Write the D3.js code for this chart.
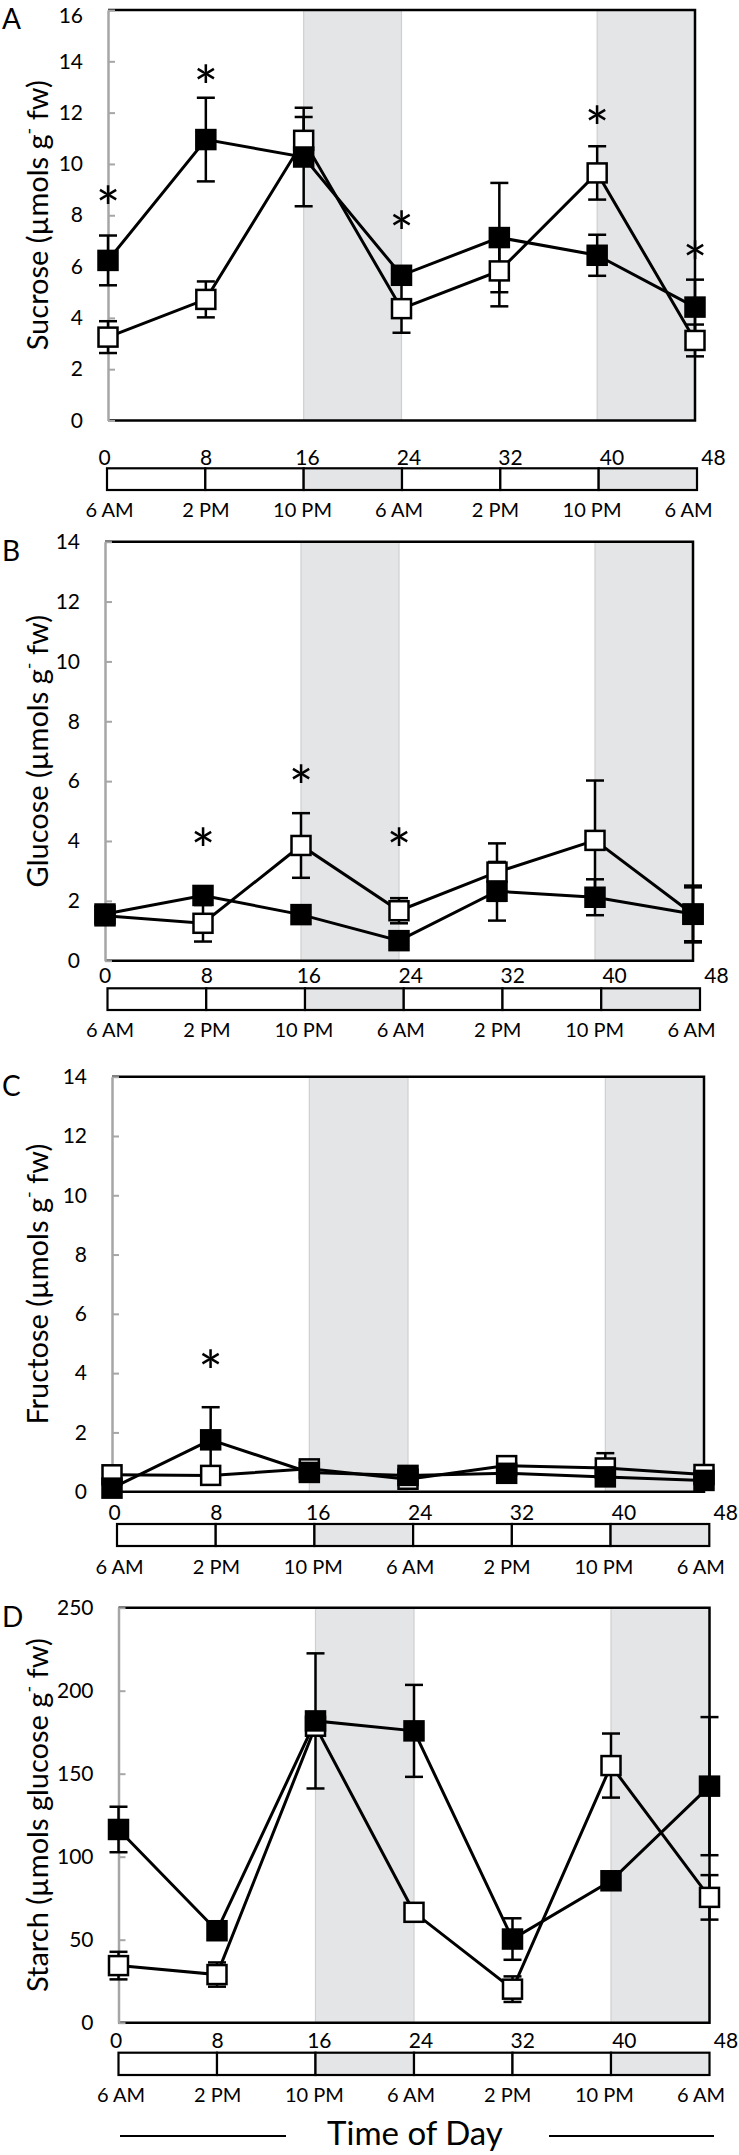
<!DOCTYPE html>
<html><head><meta charset="utf-8">
<script src="https://cdn.jsdelivr.net/npm/d3@7"></script>
<style>
body{margin:0;background:#fff}
svg{display:block}
text{font-family:Lato,"Open Sans",sans-serif;fill:#000}
</style>
</head><body>
<svg id="chart" width="739" height="2155"></svg>
<script>
// ---------- data ----------
const times = [0, 8, 16, 24, 32, 40, 48];
const hourTicks = [0, 8, 16, 24, 32, 40, 48];
const clockLabels = ["6 AM", "2 PM", "10 PM", "6 AM", "2 PM", "10 PM", "6 AM"];
const darkPeriods = [[16, 24], [40, 48]];

const sucroseFilled    = [6.24, 10.95, 10.27, 5.66, 7.13, 6.44, 4.42];
const sucroseFilledErr = [0.97, 1.63, 1.92, 0.30, 2.13, 0.80, 1.07];
const sucroseOpen      = [3.25, 4.72, 10.92, 4.36, 5.83, 9.65, 3.12];
const sucroseOpenErr   = [0.62, 0.70, 0.91, 0.94, 1.38, 1.04, 0.62];
const sucroseStarTimes = [0, 8, 24, 40, 48];
const sucroseStarLevel = [8.72, 13.46, 7.75, 11.84, 6.58];

const glucoseFilled    = [1.56, 2.18, 1.54, 0.67, 2.32, 2.12, 1.56];
const glucoseFilledErr = [0.15, 0.20, 0.30, 0.10, 0.98, 0.60, 0.95];
const glucoseOpen      = [1.50, 1.25, 3.85, 1.67, 2.96, 4.02, 1.55];
const glucoseOpenErr   = [0.15, 0.61, 1.08, 0.42, 0.96, 2.00, 0.90];
const glucoseStarTimes = [8, 16, 24];
const glucoseStarLevel = [4.09, 6.20, 4.09];

const fructoseFilled    = [0.12, 1.75, 0.65, 0.55, 0.62, 0.50, 0.38];
const fructoseFilledErr = [0.10, 1.10, 0.10, 0.10, 0.10, 0.10, 0.10];
const fructoseOpen      = [0.57, 0.55, 0.77, 0.42, 0.88, 0.80, 0.58];
const fructoseOpenErr   = [0.10, 0.10, 0.10, 0.10, 0.10, 0.50, 0.10];
const fructoseStarTimes = [8];
const fructoseStarLevel = [4.41];

const starchFilled    = [116.4, 55.4, 181.8, 175.8, 50.4, 85.5, 142.5];
const starchFilledErr = [13.7, 3.0, 40.7, 27.7, 12.5, 3.0, 41.6];
const starchOpen      = [34.4, 29.0, 178.6, 66.5, 20.2, 154.9, 75.5];
const starchOpenErr   = [8.3, 7.3, 3.0, 3.0, 7.7, 19.3, 13.4];
const starchStarTimes = [];
const starchStarLevel = [];

const panelLetters = ["A", "B", "C", "D"];
const titleHeads = ["Sucrose (µmols g", "Glucose (µmols g", "Fructose (µmols g", "Starch (µmols glucose g"];
const titleTail = " fw)";
const yMaxes = [16, 14, 14, 250];
const ySteps = [2, 2, 2, 50];
const xTitle = "Time of Day";

// ---------- layout ----------
const layouts = [
  {xL:108,   xR:695,   yT:10,     yB:420.5,  barT:468.3,  barB:490,  barL:107,   barR:697,   numBase:465,  clockY:510},
  {xL:105,   xR:693,   yT:541.7,  yB:960.7,  barT:988.3,  barB:1010, barL:107.5, barR:700,   numBase:983,  clockY:1030},
  {xL:112,   xR:704,   yT:1076.7, yB:1491.7, barT:1524,   barB:1546, barL:117,   barR:709.3, numBase:1520, clockY:1566.7},
  {xL:118.5, xR:709.5, yT:1607.7, yB:2022.7, barT:2052.7, barB:2075, barL:118.5, barR:709.5, numBase:2048, clockY:2095}
];

const panels = [
  {filled:sucroseFilled, filledErr:sucroseFilledErr, open:sucroseOpen, openErr:sucroseOpenErr, starT:sucroseStarTimes, starV:sucroseStarLevel},
  {filled:glucoseFilled, filledErr:glucoseFilledErr, open:glucoseOpen, openErr:glucoseOpenErr, starT:glucoseStarTimes, starV:glucoseStarLevel},
  {filled:fructoseFilled, filledErr:fructoseFilledErr, open:fructoseOpen, openErr:fructoseOpenErr, starT:fructoseStarTimes, starV:fructoseStarLevel},
  {filled:starchFilled, filledErr:starchFilledErr, open:starchOpen, openErr:starchOpenErr, starT:starchStarTimes, starV:starchStarLevel}
].map((p, i) => Object.assign(p, {letter:panelLetters[i], head:titleHeads[i], yMax:yMaxes[i], yStep:ySteps[i], L:layouts[i]}));

const svg = d3.select("#chart");
const AXIS_GRAY = "#a6a6a6";
const SHADE = "#e4e5e7";
const MK = 19;
const TICK_FS = 21;

panels.forEach(p => {
  const L = p.L;
  const x = d3.scaleLinear().domain([0, 48]).range([L.xL, L.xR]);
  const y = d3.scaleLinear().domain([0, p.yMax]).range([L.yB, L.yT]);
  const g = svg.append("g");

  // dark-period shading
  g.selectAll("rect.dark").data(darkPeriods).join("rect")
    .attr("class", "dark")
    .attr("x", d => x(d[0])).attr("y", L.yT)
    .attr("width", d => x(d[1]) - x(d[0])).attr("height", L.yB - L.yT)
    .attr("fill", SHADE);
  g.selectAll("line.edge").data(darkPeriods.map(d => d[0]).concat(darkPeriods.map(d => d[1]).filter(v => v < 48)))
    .join("line").attr("class", "edge")
    .attr("x1", d => x(d)).attr("x2", d => x(d)).attr("y1", L.yT).attr("y2", L.yB)
    .attr("stroke", "#cfcfd1").attr("stroke-width", 1.2);

  // frame (top, right, bottom)
  g.append("path")
    .attr("d", `M${L.xL},${L.yT}H${L.xR}V${L.yB}H${L.xL}`)
    .attr("fill", "none").attr("stroke", "#000").attr("stroke-width", 2.5);

  // y axis
  const ya = g.append("g").attr("transform", `translate(${L.xL},0)`)
    .call(d3.axisLeft(y).tickValues(d3.range(0, p.yMax + p.yStep / 2, p.yStep))
      .tickSizeInner(-7).tickSizeOuter(0).tickPadding(25));
  ya.attr("font-family", null).attr("font-size", null);
  ya.select(".domain").attr("stroke", AXIS_GRAY).attr("stroke-width", 2.5);
  ya.selectAll(".tick line").attr("stroke", AXIS_GRAY).attr("stroke-width", 2);
  ya.selectAll(".tick text").attr("font-size", TICK_FS).attr("fill", "#000");
  // keep the top label inside the page
  if (L.yT < 16) {
    ya.selectAll(".tick").filter(d => d === p.yMax).select("text").attr("y", 16 - L.yT);
  }

  // panel letter
  g.append("text").text(p.letter).attr("x", 2).attr("y", L.yT + 19).attr("font-size", 28);

  // y title
  const ty = g.append("text")
    .attr("transform", `translate(36,${(L.yT + L.yB) / 2}) rotate(-90)`)
    .attr("text-anchor", "middle").attr("dominant-baseline", "central")
    .attr("font-size", 29);
  ty.append("tspan").text(p.head);
  ty.append("tspan").attr("dy", -8).attr("font-size", 18).text("-");
  ty.append("tspan").attr("dy", 8).text(titleTail);

  // lines
  const line = d3.line().x((d, i) => x(times[i])).y(d => y(d));
  [p.open, p.filled].forEach(vals => {
    g.append("path").datum(vals).attr("d", line)
      .attr("fill", "none").attr("stroke", "#000").attr("stroke-width", 3).attr("stroke-linejoin", "miter");
  });

  // error bars
  [[p.open, p.openErr], [p.filled, p.filledErr]].forEach(([vals, errs]) => {
    const eb = g.append("g").selectAll("g").data(vals.map((v, i) => ({t: times[i], v, e: errs[i]}))).join("g");
    eb.append("line")
      .attr("x1", d => x(d.t)).attr("x2", d => x(d.t))
      .attr("y1", d => y(d.v - d.e)).attr("y2", d => y(d.v + d.e))
      .attr("stroke", "#000").attr("stroke-width", 2.5);
    [-1, 1].forEach(s => {
      eb.append("line")
        .attr("x1", d => x(d.t) - 9).attr("x2", d => x(d.t) + 9)
        .attr("y1", d => y(d.v + s * d.e)).attr("y2", d => y(d.v + s * d.e))
        .attr("stroke", "#000").attr("stroke-width", 2.5);
    });
  });

  // markers
  g.append("g").selectAll("rect").data(p.open.map((v, i) => ({t: times[i], v}))).join("rect")
    .attr("x", d => x(d.t) - MK / 2).attr("y", d => y(d.v) - MK / 2)
    .attr("width", MK).attr("height", MK)
    .attr("fill", "#fff").attr("stroke", "#000").attr("stroke-width", 2.5);
  g.append("g").selectAll("rect").data(p.filled.map((v, i) => ({t: times[i], v}))).join("rect")
    .attr("x", d => x(d.t) - MK / 2).attr("y", d => y(d.v) - MK / 2)
    .attr("width", MK).attr("height", MK)
    .attr("fill", "#000").attr("stroke", "#000").attr("stroke-width", 2.5);

  // significance asterisks
  g.append("g").selectAll("text").data(p.starT.map((t, i) => ({t, v: p.starV[i]}))).join("text")
    .text("*")
    .attr("x", d => x(d.t)).attr("y", d => y(d.v))
    .attr("dy", "0.56em").attr("text-anchor", "middle").attr("font-size", 58);

  // time bar
  const bx = d3.scaleLinear().domain([0, 48]).range([L.barL, L.barR]);
  const cells = d3.pairs(times);
  g.append("g").selectAll("rect").data(cells).join("rect")
    .attr("x", d => bx(d[0])).attr("y", L.barT)
    .attr("width", d => bx(d[1]) - bx(d[0])).attr("height", L.barB - L.barT)
    .attr("fill", d => darkPeriods.some(r => d[0] >= r[0] && d[1] <= r[1]) ? SHADE : "#fff")
    .attr("stroke", "#000").attr("stroke-width", 2.2);

  // hour labels above the bar
  const nx = d3.scaleLinear().domain([0, 48]).range([L.barL - 3, L.barR + 16]);
  const na = g.append("g").attr("transform", `translate(0,${L.numBase + 3})`)
    .call(d3.axisTop(nx).tickValues(hourTicks).tickSize(0).tickPadding(3).tickFormat(d3.format("d")));
  na.attr("font-family", null).attr("font-size", null);
  na.select(".domain").remove();
  na.selectAll("text").attr("font-size", TICK_FS).attr("fill", "#000");

  // clock labels below the bar
  const cx = d3.scaleLinear().domain([0, 48]).range([L.barL + 2, L.barR - 9]);
  const ca = g.append("g").attr("transform", `translate(0,${L.clockY})`)
    .call(d3.axisBottom(cx).tickValues(hourTicks).tickSize(0).tickPadding(0)
      .tickFormat((d, i) => clockLabels[i]));
  ca.attr("font-family", null).attr("font-size", null);
  ca.select(".domain").remove();
  ca.selectAll("text").attr("dy", "0.35em").attr("font-size", 20).attr("fill", "#000");
});

// x title with side rules
svg.append("text").text(xTitle).attr("x", 415).attr("y", 2145)
  .attr("text-anchor", "middle").attr("font-size", 33);
[[120, 286], [549, 714]].forEach(s => {
  svg.append("line").attr("x1", s[0]).attr("x2", s[1]).attr("y1", 2136).attr("y2", 2136)
    .attr("stroke", "#000").attr("stroke-width", 2);
});
</script>
</body></html>
